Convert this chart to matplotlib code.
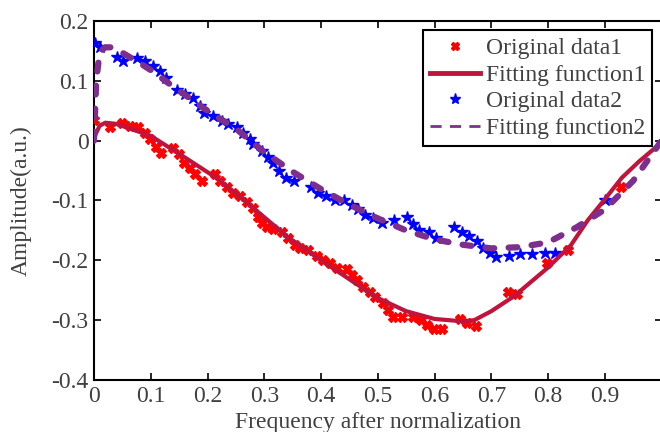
import matplotlib
matplotlib.use("Agg")
import matplotlib.pyplot as plt
from matplotlib.lines import Line2D

# Original data 1 (red crosses)
data1_x = [0.000, 0.028, 0.049, 0.063, 0.077, 0.090, 0.099, 0.109, 0.118, 0.139,
           0.150, 0.158, 0.169, 0.178, 0.190, 0.213, 0.222, 0.234, 0.245, 0.257,
           0.269, 0.280, 0.289, 0.296, 0.305, 0.315, 0.331, 0.342, 0.354, 0.363,
           0.377, 0.393, 0.403, 0.415, 0.428, 0.445, 0.454, 0.463, 0.474, 0.486,
           0.495, 0.509, 0.518, 0.526, 0.542, 0.562, 0.577, 0.586, 0.599, 0.614,
           0.644, 0.657, 0.673, 0.729, 0.745, 0.799, 0.835, 0.928]
data1_y = [0.035, 0.022, 0.030, 0.025, 0.023, 0.013, 0.002, -0.010, -0.020, -0.013,
           -0.023, -0.037, -0.045, -0.055, -0.067, -0.055, -0.067, -0.078, -0.087, -0.092,
           -0.103, -0.112, -0.128, -0.137, -0.145, -0.147, -0.153, -0.163, -0.175, -0.180,
           -0.183, -0.192, -0.200, -0.205, -0.212, -0.215, -0.225, -0.233, -0.245, -0.253,
           -0.262, -0.272, -0.283, -0.295, -0.295, -0.295, -0.300, -0.308, -0.315, -0.315,
           -0.298, -0.305, -0.310, -0.253, -0.257, -0.205, -0.182, -0.078]

# Fitting function 1 (solid line)
fit1_x = [0.0, 0.01, 0.02, 0.04, 0.10, 0.16, 0.22, 0.28, 0.34, 0.40, 0.46, 0.50,
          0.55, 0.60, 0.65, 0.67, 0.70, 0.74, 0.80, 0.84, 0.87, 0.90, 0.93, 0.96, 1.0]
fit1_y = [0.005, 0.025, 0.030, 0.028, 0.008, -0.028, -0.065, -0.112, -0.160, -0.200,
          -0.238, -0.263, -0.285, -0.298, -0.302, -0.300, -0.285, -0.260, -0.212,
          -0.175, -0.133, -0.098, -0.062, -0.035, -0.003]

# Original data 2 (blue stars)
data2_x = [0.002, 0.011, 0.040, 0.051, 0.075, 0.090, 0.104, 0.116, 0.126, 0.146,
           0.160, 0.174, 0.187, 0.194, 0.210, 0.225, 0.236, 0.252, 0.262, 0.275,
           0.280, 0.296, 0.306, 0.315, 0.326, 0.338, 0.352, 0.382, 0.394, 0.408,
           0.424, 0.440, 0.454, 0.465, 0.477, 0.491, 0.507, 0.528, 0.551, 0.562,
           0.572, 0.590, 0.602, 0.634, 0.648, 0.660, 0.674, 0.685, 0.697, 0.709,
           0.731, 0.751, 0.771, 0.794, 0.812, 0.900]
data2_y = [0.164, 0.156, 0.139, 0.133, 0.138, 0.133, 0.125, 0.116, 0.105, 0.084,
           0.078, 0.072, 0.058, 0.047, 0.042, 0.033, 0.028, 0.022, 0.012, 0.003,
           -0.005, -0.017, -0.028, -0.038, -0.050, -0.062, -0.067, -0.078, -0.087, -0.093,
           -0.100, -0.100, -0.108, -0.115, -0.125, -0.130, -0.138, -0.132, -0.128, -0.140,
           -0.150, -0.152, -0.162, -0.145, -0.153, -0.160, -0.168, -0.180, -0.188, -0.195,
           -0.192, -0.190, -0.190, -0.188, -0.188, -0.100]

# Fitting function 2 (dashed line)
fit2_x = [0.0, 0.004, 0.01, 0.02, 0.03, 0.05, 0.08, 0.10, 0.14, 0.20, 0.25, 0.30,
          0.35, 0.40, 0.45, 0.50, 0.55, 0.60, 0.65, 0.70, 0.75, 0.80, 0.85, 0.90,
          0.95, 1.0]
fit2_y = [0.0, 0.100, 0.148, 0.156, 0.156, 0.147, 0.130, 0.118, 0.090, 0.050, 0.020,
          -0.019, -0.052, -0.081, -0.107, -0.130, -0.150, -0.165, -0.174, -0.180,
          -0.178, -0.170, -0.145, -0.115, -0.067, 0.0]

y_ticks = [-0.4, -0.3, -0.2, -0.1, 0, 0.1, 0.2]
y_tick_labels = ["-0.4", "-0.3", "-0.2", "-0.1", "0", "0.1", "0.2"]
x_ticks = [0, 0.1, 0.2, 0.3, 0.4, 0.5, 0.6, 0.7, 0.8, 0.9, 1.0]
# the "1" label falls off the right edge of the original figure
x_tick_labels = ["0", "0.1", "0.2", "0.3", "0.4", "0.5", "0.6", "0.7", "0.8", "0.9", ""]

labels = ["Original data1", "Fitting function1", "Original data2", "Fitting function2"]

RED = "#ff0000"
CRIMSON = "#c0143c"
BLUE = "#0000ff"
PURPLE = "#7e2f8e"
TEXT = "#404040"


def main():
    plt.rcParams["font.family"] = ["Liberation Serif", "DejaVu Serif"]
    plt.rcParams["font.size"] = 17
    plt.rcParams["axes.unicode_minus"] = False

    fig = plt.figure(figsize=(6.6, 4.32), dpi=100)
    ax = fig.add_axes([0.1424, 0.1204, 0.86, 0.831])

    ax.plot(data1_x, data1_y, linestyle="none", marker="X", color=RED,
            markersize=7, zorder=3)
    ax.plot(fit1_x, fit1_y, color=CRIMSON, linewidth=3, zorder=4)
    ax.plot(data2_x, data2_y, linestyle="none", marker="*", color=BLUE,
            markersize=9, zorder=3)
    ax.plot(fit2_x, fit2_y, color=PURPLE, linewidth=4.5, linestyle=(0, (1.4, 2.3)),
            dash_capstyle="round", zorder=5)

    ax.set_xlim(0, 1)
    ax.set_ylim(-0.4, 0.2)
    ax.set_xticks(x_ticks)
    ax.set_xticklabels(x_tick_labels)
    ax.set_yticks(y_ticks)
    ax.set_yticklabels(y_tick_labels)
    ax.tick_params(direction="in", top=True, right=True, length=5, width=1.2,
                   colors="black", labelcolor=TEXT, labelsize=17, pad=4)
    for spine in ax.spines.values():
        spine.set_linewidth(1.5)

    ax.set_xlabel("Frequency after normalization", color=TEXT, fontsize=17, labelpad=4)
    ax.set_ylabel("Amplitude(a.u.)", color=TEXT, fontsize=17, labelpad=14)

    # legend uses proxy handles so the dashed entry is drawn thinner, as in the original
    handles = [
        Line2D([], [], linestyle="none", marker="X", color=RED, markersize=6),
        Line2D([], [], color=CRIMSON, linewidth=3.5),
        Line2D([], [], linestyle="none", marker="*", color=BLUE, markersize=8),
        Line2D([], [], color=PURPLE, linewidth=2, linestyle=(0, (4, 3))),
    ]
    leg = ax.legend(handles, labels, loc="upper right", fontsize=17, fancybox=False,
                    framealpha=1, edgecolor="black", borderpad=0.3, labelspacing=0.22,
                    handlelength=2.1, handletextpad=0.25, borderaxespad=0.4)
    leg.get_frame().set_linewidth(1.5)
    for text in leg.get_texts():
        text.set_color(TEXT)

    fig.savefig("out.png", dpi=100)
    plt.close(fig)


if __name__ == "__main__":
    main()
